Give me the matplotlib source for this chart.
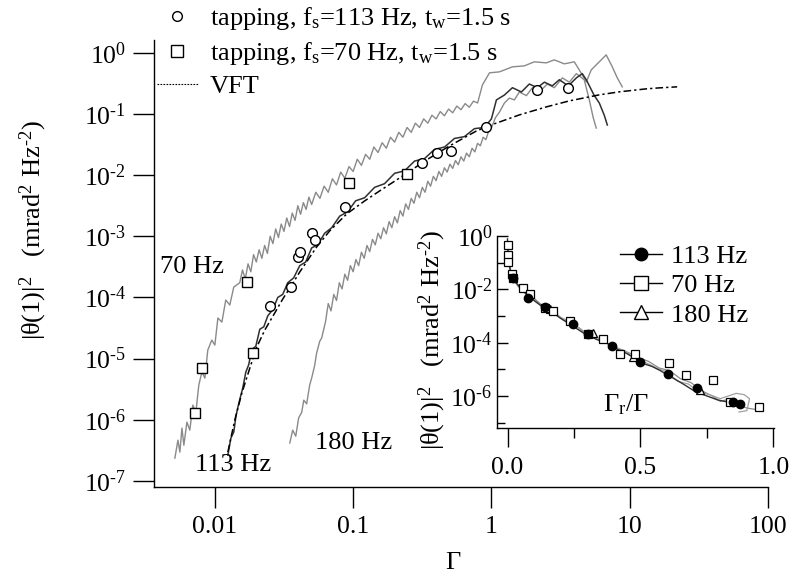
import numpy as np
import matplotlib
matplotlib.use("Agg")
from matplotlib import pyplot as plt
from matplotlib.lines import Line2D
from matplotlib.ticker import FixedLocator, NullFormatter, FixedFormatter

plt.rcParams['font.family'] = ['Liberation Serif', 'DejaVu Serif']
plt.rcParams['mathtext.fontset'] = 'custom'
plt.rcParams['mathtext.rm'] = 'Liberation Serif'
plt.rcParams['mathtext.it'] = 'Liberation Serif:italic'
plt.rcParams['mathtext.bf'] = 'Liberation Serif:bold'

# ---- main panel data (log10 Gamma, log10 |theta(1)|^2) ----
log_g_70 = [-2.289, -2.267, -2.253, -2.238, -2.224, -2.202, -2.181, -2.159, -2.137, -2.116,
            -2.094, -2.072, -2.051, -2.022, -2.000, -1.978, -1.949, -1.921, -1.892, -1.863,
            -1.82, -1.80, -1.78, -1.76, -1.74, -1.72, -1.70, -1.68, -1.66, -1.64,
            -1.62, -1.60, -1.58, -1.56, -1.54, -1.52, -1.50, -1.48, -1.46, -1.44,
            -1.42, -1.40, -1.38, -1.36, -1.34, -1.32, -1.30, -1.27, -1.24, -1.21,
            -1.18, -1.15, -1.12, -1.09, -1.06, -1.03, -1.00, -0.97, -0.94, -0.91,
            -0.88, -0.85, -0.82, -0.79, -0.76, -0.73, -0.70, -0.67, -0.64, -0.61,
            -0.58, -0.55, -0.52, -0.49, -0.46, -0.43, -0.40, -0.37, -0.34, -0.31,
            -0.28, -0.25, -0.22, -0.19, -0.16, -0.13, -0.10,
            -0.065, -0.014, 0.058, 0.152, 0.238, 0.310, 0.397, 0.455,
            0.527, 0.599, 0.635, 0.686, 0.722, 0.758, 0.794, 0.830, 0.874, 0.910, 0.946]
log_p_70 = [-6.628, -6.334, -6.530, -6.137, -6.416, -6.039, -6.170, -5.761, -5.876, -5.434,
            -5.221, -5.319, -4.861, -4.697, -4.779, -4.337, -4.403, -4.043, -4.124, -3.830,
            -3.76, -3.55, -3.70, -3.45, -3.58, -3.30, -3.42, -3.22, -3.36, -3.15,
            -3.28, -3.00, -3.12, -2.88, -3.02, -2.80, -2.92, -2.70, -2.84, -2.62,
            -2.74, -2.50, -2.64, -2.45, -2.56, -2.36, -2.48, -2.28, -2.38, -2.18,
            -2.28, -2.06, -2.16, -1.95, -2.05, -1.86, -1.94, -1.74, -1.84, -1.66,
            -1.74, -1.54, -1.63, -1.47, -1.56, -1.38, -1.46, -1.30, -1.38, -1.22,
            -1.30, -1.15, -1.22, -1.08, -1.15, -1.02, -1.08, -0.96, -1.03, -0.92,
            -0.98, -0.87, -0.93, -0.83, -0.89, -0.79, -0.82,
            -0.524, -0.327, -0.311, -0.229, -0.213, -0.147, -0.164, -0.115,
            -0.180, -0.147, -0.278, -0.475, -0.278, -0.196, -0.115, -0.033, -0.229, -0.409, -0.556]

log_g_113 = [-1.906, -1.884, -1.863, -1.848, -1.834, -1.812, -1.798, -1.776, -1.755, -1.733,
             -1.704, -1.675, -1.646, -1.617, -1.581, -1.545, -1.509, -1.473, -1.430, -1.386,
             -1.343, -1.300, -1.256, -1.206, -1.155, -1.097, -1.040, -0.982, -0.917, -0.845,
             -0.773, -0.700, -0.628, -0.556, -0.484, -0.412, -0.339, -0.267, -0.195, -0.123,
             -0.051, 0.000, 0.036, 0.094, 0.152, 0.217, 0.274, 0.332, 0.383, 0.440,
             0.491, 0.556, 0.614, 0.657, 0.686, 0.715, 0.744, 0.780, 0.816, 0.838]
log_p_113 = [-6.58, -6.30, -6.20, -5.95, -5.80, -5.60, -5.48, -5.22, -5.10, -4.85,
             -4.80, -4.52, -4.48, -4.30, -4.20, -4.00, -3.95, -3.76, -3.68, -3.48,
             -3.42, -3.19, -3.14, -2.95, -2.86, -2.67, -2.60, -2.42, -2.37, -2.20,
             -2.14, -1.97, -1.93, -1.77, -1.73, -1.58, -1.54, -1.40, -1.37, -1.24,
             -1.22, -1.08, -0.77, -0.69, -0.57, -0.64, -0.51, -0.57, -0.48, -0.54,
             -0.44, -0.54, -0.41, -0.34, -0.44, -0.57, -0.70, -0.82, -1.02, -1.18]

log_g_180 = [-1.458, -1.437, -1.415, -1.394, -1.372, -1.357, -1.336, -1.314, -1.300, -1.278,
             -1.264, -1.242, -1.227,
             -1.20, -1.18, -1.16, -1.14, -1.12, -1.10, -1.08, -1.06, -1.04, -1.02,
             -1.00, -0.98, -0.96, -0.94, -0.92, -0.90, -0.88, -0.86, -0.84, -0.82,
             -0.80, -0.78, -0.76, -0.74, -0.72, -0.70, -0.68, -0.66, -0.64, -0.62,
             -0.60, -0.58, -0.56, -0.54, -0.52, -0.50, -0.48, -0.46, -0.44, -0.42,
             -0.40, -0.38, -0.36, -0.34, -0.32, -0.30, -0.28, -0.26, -0.24, -0.22,
             -0.20, -0.18, -0.16, -0.14, -0.12, -0.10, -0.08, -0.06, -0.04, -0.02,
             0.000, 0.029, 0.058, 0.094, 0.130, 0.166, 0.202, 0.253, 0.296, 0.347,
             0.404, 0.455, 0.513, 0.563, 0.614, 0.671, 0.708, 0.736, 0.758]
log_p_180 = [-6.38, -6.17, -6.27, -5.97, -5.88, -5.68, -5.74, -5.43, -5.32, -5.11,
             -4.91, -4.72, -4.66,
             -4.40, -4.10, -4.22, -3.95, -4.05, -3.76, -3.86, -3.62, -3.72, -3.48,
             -3.58, -3.38, -3.48, -3.26, -3.36, -3.15, -3.25, -3.05, -3.14, -2.95,
             -3.04, -2.86, -2.96, -2.76, -2.86, -2.68, -2.78, -2.58, -2.67, -2.47,
             -2.56, -2.38, -2.46, -2.28, -2.37, -2.20, -2.28, -2.10, -2.18, -2.02,
             -2.09, -1.94, -2.02, -1.88, -1.95, -1.82, -1.89, -1.76, -1.83, -1.70,
             -1.77, -1.64, -1.70, -1.56, -1.62, -1.48, -1.52, -1.38, -1.42, -1.28,
             -1.23, -1.06, -0.97, -0.82, -0.74, -0.77, -0.64, -0.70, -0.57, -0.64,
             -0.51, -0.57, -0.41, -0.48, -0.34, -0.44, -0.77, -1.06, -1.23]

log_g_vft = [-1.906, -1.856, -1.805, -1.747, -1.697, -1.639, -1.567, -1.509, -1.444, -1.386,
             -1.264, -1.170, -1.047, -0.917, -0.809, -0.664, -0.469, -0.303, -0.108, 0.000,
             0.202, 0.397, 0.563, 0.780, 0.924, 1.119, 1.213, 1.343]
log_p_vft = [-6.530, -6.007, -5.565, -5.155, -4.812, -4.534, -4.255, -4.026, -3.797, -3.584,
             -3.175, -2.913, -2.635, -2.422, -2.259, -2.046, -1.751, -1.522, -1.277, -1.178,
             -1.015, -0.884, -0.786, -0.687, -0.638, -0.589, -0.573, -0.556]

# tapping points
log_g_tap113 = [-1.603, -1.451, -1.400, -1.386, -1.300, -1.278, -1.061, -0.505, -0.397, -0.289, -0.036, 0.332, 0.556]
log_p_tap113 = [-4.14, -3.83, -3.34, -3.26, -2.95, -3.06, -2.52, -1.80, -1.64, -1.60, -1.21, -0.61, -0.57]
log_g_tap70 = [-2.144, -2.094, -1.769, -1.726, -1.033, -0.614]
log_p_tap70 = [-5.89, -5.155, -3.748, -4.91, -2.128, -1.98]

# ---- inset data (Gamma_r/Gamma, log10 |theta(1)|^2) ----
in_x_113 = [0.000, 0.002, 0.006, 0.013, 0.028, 0.047, 0.073, 0.103, 0.133, 0.167, 0.197,
            0.227, 0.261, 0.291, 0.321, 0.355, 0.385, 0.415, 0.449, 0.479, 0.509, 0.543,
            0.573, 0.603, 0.637, 0.667, 0.697, 0.731, 0.761, 0.791, 0.825, 0.855, 0.885]
in_p_113 = [-0.11, -0.59, -1.04, -1.41, -1.70, -1.93, -2.19, -2.44, -2.67, -2.85, -3.07,
            -3.26, -3.48, -3.67, -3.82, -3.96, -4.07, -4.26, -4.41, -4.59, -4.78, -4.89,
            -5.04, -5.22, -5.41, -5.59, -5.78, -5.93, -6.04, -6.15, -6.22, -6.30, -6.33]
in_x_70 = [0.000, 0.004, 0.010, 0.030, 0.060, 0.090, 0.130, 0.170, 0.210, 0.250, 0.290, 0.330,
           0.370, 0.410, 0.450, 0.490, 0.530, 0.570, 0.610, 0.650, 0.690, 0.730, 0.770, 0.800,
           0.840, 0.870, 0.900, 0.930]
in_p_70 = [-0.20, -0.90, -1.30, -1.75, -2.00, -2.25, -2.60, -2.80, -3.15, -3.30, -3.60, -3.75,
           -4.00, -4.20, -4.35, -4.55, -4.70, -4.95, -5.05, -5.35, -5.50, -5.80, -6.00, -6.20,
           -6.10, -6.35, -6.45, -6.50]
in_x_180 = [0.005, 0.015, 0.040, 0.080, 0.120, 0.160, 0.200, 0.240, 0.280, 0.320, 0.360, 0.400,
            0.440, 0.480, 0.520, 0.560, 0.600, 0.640, 0.680, 0.720, 0.760, 0.800, 0.830, 0.860,
            0.890, 0.910, 0.900, 0.870]
in_p_180 = [-0.80, -1.50, -1.90, -2.30, -2.55, -2.75, -3.05, -3.25, -3.55, -3.80, -3.95, -4.15,
            -4.30, -4.60, -4.75, -4.95, -5.10, -5.45, -5.55, -5.85, -5.95, -6.10, -6.00, -5.90,
            -5.95, -6.10, -6.55, -6.60]
in_mx_113 = [0.020, 0.077, 0.141, 0.246, 0.303, 0.393, 0.498, 0.603, 0.712, 0.848, 0.874]
in_mp_113 = [-1.59, -2.33, -2.67, -3.30, -3.67, -4.11, -4.74, -5.19, -5.70, -6.22, -6.30]
in_mx_70 = [0.002, 0.002, 0.002, 0.017, 0.021, 0.058, 0.085, 0.141, 0.171, 0.235, 0.303, 0.359,
            0.423, 0.479, 0.607, 0.671, 0.773, 0.836, 0.945]
in_mp_70 = [-0.33, -0.70, -0.96, -1.41, -1.59, -1.96, -2.19, -2.70, -2.82, -3.19, -3.67, -3.85,
            -4.41, -4.41, -4.78, -5.22, -5.41, -6.22, -6.41]
in_mx_180 = [0.160, 0.321, 0.472, 0.724]
in_mp_180 = [-2.74, -3.63, -4.52, -5.78]

HY = '\u2010'  # the original uses a short hyphen in the exponents
main_xticks = [0.01, 0.1, 1, 10, 100]
main_xticklabels = ['0.01', '0.1', '1', '10', '100']
main_yticks = [1e0, 1e-1, 1e-2, 1e-3, 1e-4, 1e-5, 1e-6, 1e-7]
main_yticklabels = ['10$^{0}$'] + ['10$^{%s%d}$' % (HY, k) for k in range(1, 8)]
inset_xticks = [0.0, 0.5, 1.0]
inset_xticklabels = ['0.0', '0.5', '1.0']
inset_yticks = [1e0, 1e-2, 1e-4, 1e-6]
inset_yticklabels = ['10$^{0}$'] + ['10$^{%s%d}$' % (HY, k) for k in (2, 4, 6)]

W, H = 795, 577
fig = plt.figure(figsize=(W / 100, H / 100), dpi=100)


def pbox(x0, y0, x1, y1):
    # pixel box (top-left origin) -> figure fraction rect
    return [x0 / W, 1 - y1 / H, (x1 - x0) / W, (y1 - y0) / H]


ax = fig.add_axes(pbox(154, 40, 768, 487))
gray = '#8a8a8a'
ax.plot(10 ** np.array(log_g_70), 10 ** np.array(log_p_70), color=gray, lw=1.0)
ax.plot(10 ** np.array(log_g_180), 10 ** np.array(log_p_180), color=gray, lw=1.0)
ax.plot(10 ** np.array(log_g_113), 10 ** np.array(log_p_113), color='#303030', lw=1.1)
ax.plot(10 ** np.array(log_g_vft), 10 ** np.array(log_p_vft), color='black', lw=1.1,
        ls=(0, (5, 2, 1.5, 2)))
ax.plot(10 ** np.array(log_g_tap113), 10 ** np.array(log_p_tap113), ls='none', marker='o',
        mfc='white', mec='black', ms=7, mew=1.0)
ax.plot(10 ** np.array(log_g_tap70), 10 ** np.array(log_p_tap70), ls='none', marker='s',
        mfc='white', mec='black', ms=7.5, mew=1.0)

ax.set_xscale('log')
ax.set_yscale('log')
ax.set_xlim(10 ** -2.44, 100)
ax.set_ylim(10 ** -7.1, 10 ** 0.21)
ax.xaxis.set_major_locator(FixedLocator(main_xticks))
ax.xaxis.set_major_formatter(FixedFormatter(main_xticklabels))
ax.xaxis.set_minor_locator(FixedLocator([]))
ax.yaxis.set_major_locator(FixedLocator(main_yticks))
ax.yaxis.set_major_formatter(FixedFormatter(main_yticklabels))
ax.yaxis.set_minor_locator(FixedLocator([]))
for s in ['top', 'right']:
    ax.spines[s].set_visible(False)
for s in ['left', 'bottom']:
    ax.spines[s].set_linewidth(1.0)
ax.tick_params(axis='both', direction='out', length=15, width=1.0, labelsize=18.5)
ax.tick_params(axis='x', pad=6)
ax.tick_params(axis='y', pad=5)
ax.set_facecolor('none')

leg_handles = [
    Line2D([], [], ls='none', marker='o', mfc='white', mec='black', ms=7, mew=1.0),
    Line2D([], [], ls='none', marker='s', mfc='white', mec='black', ms=8, mew=1.0),
    Line2D([], [], color='black', lw=0.8, ls=(0, (1.5, 1.2))),
]
leg_labels = [r'tapping, f$_{\rm s}$=113 Hz, t$_{\rm w}$=1.5 s',
              r'tapping, f$_{\rm s}$=70 Hz, t$_{\rm w}$=1.5 s',
              'VFT']
fig.legend(leg_handles, leg_labels, loc='upper left', bbox_to_anchor=(157 / W, 1 - 5 / H),
           frameon=False, fontsize=19, handlelength=1.55, handletextpad=0.45,
           labelspacing=0.3, borderpad=0, borderaxespad=0)

fs = 19
fig.text(160 / W, 1 - 267 / H, '70 Hz', fontsize=fs, va='center', ha='left')
fig.text(195 / W, 1 - 465 / H, '113 Hz', fontsize=fs, va='center', ha='left')
fig.text(315 / W, 1 - 443 / H, '180 Hz', fontsize=fs, va='center', ha='left')
fig.text(453 / W, 1 - 563 / H, 'Γ', fontsize=fs, va='center', ha='center')
ylab = r'|θ(1)|$^{2}$   (mrad$^{2}$ Hz$^{%s2}$)' % HY
fig.text(33 / W, 1 - 230 / H, ylab, fontsize=fs, rotation=90, va='center', ha='center')

# ---- inset ----
axin = fig.add_axes(pbox(497, 236, 774, 428))
axin.plot(in_x_70, 10 ** np.array(in_p_70), color=gray, lw=0.9)
axin.plot(in_x_180, 10 ** np.array(in_p_180), color='#a0a0a0', lw=0.9)
axin.plot(in_x_113, 10 ** np.array(in_p_113), color='#303030', lw=1.0)
axin.plot(in_mx_180, 10 ** np.array(in_mp_180), ls='none', marker='^', mfc='white', mec='black',
          ms=6, mew=0.9)
axin.plot(in_mx_70, 10 ** np.array(in_mp_70), ls='none', marker='s', mfc='white', mec='black',
          ms=6, mew=0.9)
axin.plot(in_mx_113, 10 ** np.array(in_mp_113), ls='none', marker='o', mfc='black', mec='black',
          ms=6)
axin.set_yscale('log')
axin.set_xlim(-0.0395, 1.002)
axin.set_ylim(10 ** -7.2, 1.0)
axin.xaxis.set_major_locator(FixedLocator(inset_xticks))
axin.xaxis.set_major_formatter(FixedFormatter(inset_xticklabels))
axin.xaxis.set_minor_locator(FixedLocator([0.25, 0.75]))
axin.yaxis.set_major_locator(FixedLocator(inset_yticks))
axin.yaxis.set_major_formatter(FixedFormatter(inset_yticklabels))
axin.yaxis.set_minor_locator(FixedLocator([1e-1, 1e-3, 1e-5, 1e-7]))
axin.yaxis.set_minor_formatter(NullFormatter())
for s in ['top', 'right']:
    axin.spines[s].set_visible(False)
for s in ['left', 'bottom']:
    axin.spines[s].set_linewidth(1.0)
axin.tick_params(axis='x', which='major', direction='out', length=14, width=1.0, labelsize=18.5, pad=7)
axin.tick_params(axis='x', which='minor', direction='out', length=7, width=1.0)
axin.tick_params(axis='y', which='major', direction='in', length=8, width=1.0, labelsize=18.5, pad=3)
axin.tick_params(axis='y', which='minor', direction='in', length=6, width=1.0)
axin.set_facecolor('none')

in_handles = [
    Line2D([], [], color='black', lw=1.0, marker='o', mfc='black', mec='black', ms=9),
    Line2D([], [], color='black', lw=1.0, marker='s', mfc='white', mec='black', ms=10, mew=1.0),
    Line2D([], [], color='black', lw=1.0, marker='^', mfc='white', mec='black', ms=10, mew=1.0),
]
fig.legend(in_handles, ['113 Hz', '70 Hz', '180 Hz'], loc='upper left',
           bbox_to_anchor=(620 / W, 1 - 245 / H), frameon=False, fontsize=19,
           handlelength=1.6, handletextpad=0.35, labelspacing=0.21, borderpad=0, borderaxespad=0)

fig.text(603 / W, 1 - 405 / H, r'Γ$_{\rm r}$/Γ', fontsize=fs, va='center', ha='left')
fig.text(432 / W, 1 - 340 / H, ylab, fontsize=fs, rotation=90, va='center', ha='center')

fig.savefig('out.png', dpi=100)
